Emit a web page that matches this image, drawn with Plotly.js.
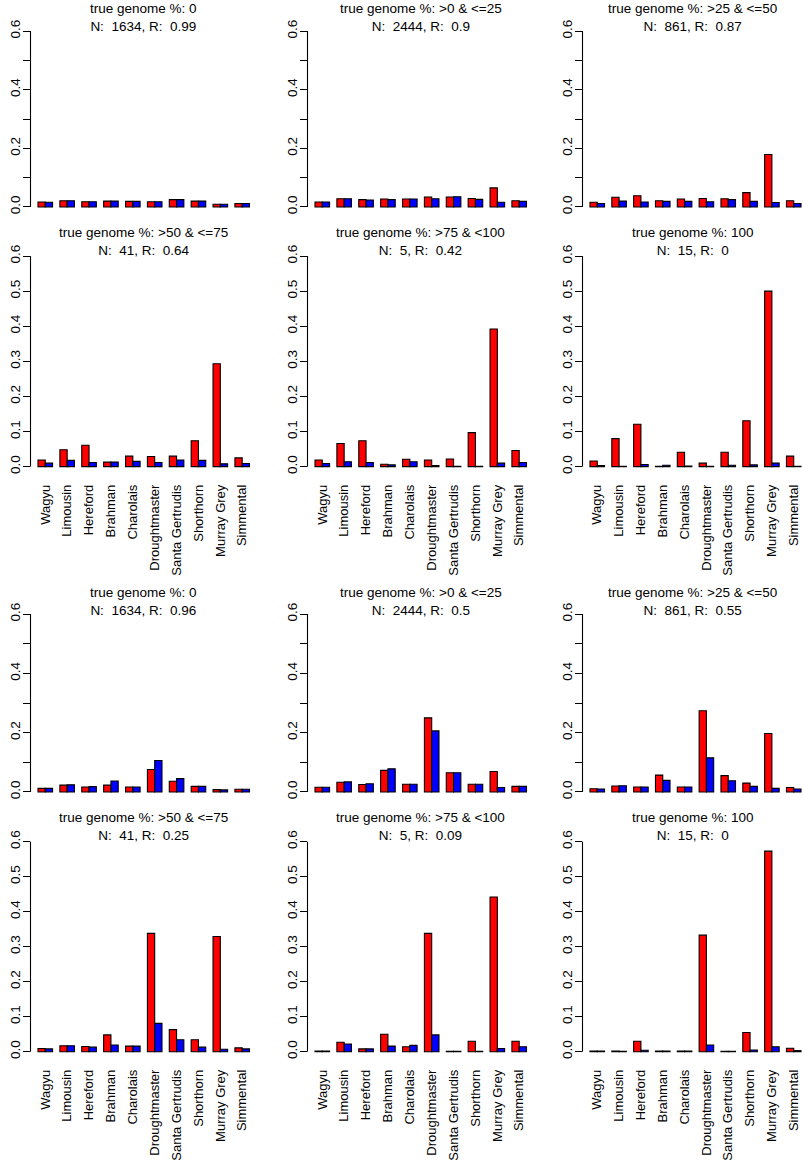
<!DOCTYPE html>
<html>
<head>
<meta charset="utf-8">
<script src="https://cdn.plot.ly/plotly-3.0.1.min.js"></script>
<style>
  html, body { margin: 0; padding: 0; background: #fff; }
  #gd { width: 803px; height: 1166px; }
</style>
</head>
<body>
<div id="gd"></div>
<script>
// breeds on the x axis of every panel
const breeds = ['Wagyu', 'Limousin', 'Hereford', 'Brahman', 'Charolais',
                'Droughtmaster', 'Santa Gertrudis', 'Shorthorn', 'Murray Grey', 'Simmental'];

// panel headings (same classes in both blocks)
const genomeClass = ['0', '&gt;0 &amp; &lt;=25', '&gt;25 &amp; &lt;=50',
                     '&gt;50 &amp; &lt;=75', '&gt;75 &amp; &lt;100', '100'];
const nCount = [1634, 2444, 861, 41, 5, 15];
const rTop = ['0.99', '0.9', '0.87', '0.64', '0.42', '0'];
const rBottom = ['0.96', '0.5', '0.55', '0.25', '0.09', '0'];

// top block: red / blue bars, one row per panel
const topRed = [
  [0.017, 0.021, 0.018, 0.020, 0.019, 0.018, 0.025, 0.020, 0.009, 0.012],
  [0.017, 0.028, 0.025, 0.027, 0.027, 0.034, 0.034, 0.029, 0.065, 0.021],
  [0.016, 0.033, 0.038, 0.021, 0.027, 0.029, 0.028, 0.049, 0.179, 0.021],
  [0.019, 0.048, 0.061, 0.013, 0.030, 0.029, 0.030, 0.074, 0.293, 0.025],
  [0.019, 0.066, 0.074, 0.007, 0.021, 0.019, 0.022, 0.097, 0.392, 0.046],
  [0.016, 0.080, 0.121, 0.001, 0.041, 0.010, 0.041, 0.131, 0.500, 0.030]
];
const topBlue = [
  [0.016, 0.021, 0.018, 0.020, 0.019, 0.018, 0.025, 0.020, 0.009, 0.012],
  [0.017, 0.028, 0.024, 0.025, 0.027, 0.028, 0.035, 0.026, 0.016, 0.019],
  [0.012, 0.020, 0.017, 0.019, 0.019, 0.018, 0.025, 0.019, 0.015, 0.012],
  [0.010, 0.018, 0.012, 0.013, 0.015, 0.012, 0.019, 0.018, 0.008, 0.009],
  [0.009, 0.014, 0.012, 0.005, 0.014, 0.003, 0.001, 0.001, 0.010, 0.012],
  [0.003, 0.001, 0.006, 0.004, 0.002, 0.001, 0.004, 0.005, 0.010, 0.001]
];

// bottom block
const bottomRed = [
  [0.012, 0.023, 0.017, 0.023, 0.017, 0.076, 0.036, 0.019, 0.008, 0.009],
  [0.016, 0.033, 0.025, 0.073, 0.026, 0.250, 0.065, 0.026, 0.069, 0.019],
  [0.011, 0.020, 0.017, 0.057, 0.017, 0.274, 0.055, 0.030, 0.197, 0.015],
  [0.009, 0.017, 0.015, 0.048, 0.016, 0.338, 0.063, 0.034, 0.329, 0.011],
  [0.002, 0.027, 0.008, 0.050, 0.014, 0.338, 0.001, 0.030, 0.442, 0.030],
  [0.002, 0.002, 0.030, 0.002, 0.002, 0.333, 0.001, 0.055, 0.573, 0.010]
];
const bottomBlue = [
  [0.012, 0.024, 0.018, 0.037, 0.017, 0.106, 0.045, 0.019, 0.007, 0.009],
  [0.016, 0.034, 0.028, 0.078, 0.026, 0.206, 0.065, 0.026, 0.015, 0.019],
  [0.010, 0.021, 0.017, 0.039, 0.017, 0.115, 0.038, 0.019, 0.012, 0.010],
  [0.008, 0.017, 0.013, 0.019, 0.016, 0.081, 0.034, 0.013, 0.007, 0.008],
  [0.002, 0.022, 0.008, 0.016, 0.018, 0.048, 0.001, 0.001, 0.009, 0.014],
  [0.002, 0.001, 0.004, 0.002, 0.002, 0.019, 0.001, 0.005, 0.014, 0.003]
];

const yTicks = [0, 0.1, 0.2, 0.3, 0.4, 0.5, 0.6];

// ---- geometry (pixels of the 803x1166 page) ----
const W = 803, H = 1166;
const colPx = [[30.5, 257], [307.5, 534], [582.5, 803]];
const colRange = [[-0.676, 9.676], [-0.676, 9.676], [-0.676, 9.425]];
const rowPx = [[24, 214], [247.6, 475.1], [606.9, 799.1], [833.3, 1060.1]];
const titleY = [17.5, 242, 601, 826.5];

const FONT = 'Liberation Sans, Arial, Helvetica, sans-serif';

let data = [];
let layout = {
  width: W,
  height: H,
  margin: {l: 0, r: 0, t: 0, b: 0},
  paper_bgcolor: '#fff',
  plot_bgcolor: '#fff',
  barmode: 'group',
  bargap: 1 / 3,
  bargroupgap: 0,
  showlegend: false,
  font: {family: FONT, size: 13.5, color: '#000'},
  shapes: [],
  annotations: []
};

for (let p = 0; p < 12; p++) {
  const block = Math.floor(p / 6);
  const i = p % 6;
  const row = block * 2 + Math.floor(i / 3);
  const col = i % 3;
  const suffix = p === 0 ? '' : String(p + 1);
  const xa = 'x' + suffix, ya = 'y' + suffix;

  const red = block === 0 ? topRed[i] : bottomRed[i];
  const blue = block === 0 ? topBlue[i] : bottomBlue[i];
  const r = block === 0 ? rTop[i] : rBottom[i];

  [[red, '#ff0000'], [blue, '#0000ff']].forEach(function (s) {
    data.push({
      type: 'bar',
      x: breeds,
      y: s[0],
      xaxis: xa,
      yaxis: ya,
      marker: {color: s[1], line: {color: '#000', width: 1.1}},
      hoverinfo: 'x+y'
    });
  });

  const xd = [colPx[col][0] / W, colPx[col][1] / W];
  const yd = [1 - rowPx[row][1] / H, 1 - rowPx[row][0] / H];
  const lowerRow = row % 2 === 1;

  layout['xaxis' + suffix] = {
    domain: xd,
    anchor: ya,
    type: 'category',
    range: colRange[col],
    showline: false,
    showgrid: false,
    zeroline: false,
    ticks: '',
    showticklabels: lowerRow,
    tickangle: -90,
    ticklabelstandoff: 6,
    tickfont: {family: FONT, size: 13, color: '#000'},
    fixedrange: true
  };
  layout['yaxis' + suffix] = {
    domain: yd,
    anchor: xa,
    range: [-0.024, 0.624],
    tickmode: 'array',
    tickvals: yTicks,
    ticktext: yTicks.map(function (v, k) {
      return (lowerRow || k % 2 === 0) ? v.toFixed(1) : '';
    }),
    ticks: 'outside',
    ticklen: 7,
    tickwidth: 1,
    tickcolor: '#000',
    tickangle: -90,
    ticklabelstandoff: -3,
    tickfont: {family: FONT, size: 13.5, color: '#000'},
    showline: false,
    showgrid: false,
    zeroline: false,
    fixedrange: true
  };

  // R style axis line, only from the first to the last tick
  layout.shapes.push({
    type: 'line',
    xref: xa + ' domain', x0: 0, x1: 0,
    yref: ya, y0: yTicks[0], y1: yTicks[yTicks.length - 1],
    line: {color: '#000', width: 1.1}
  });

  layout.annotations.push({
    xref: 'paper', yref: 'paper',
    x: (xd[0] + xd[1]) / 2,
    y: 1 - titleY[row] / H,
    xanchor: 'center', yanchor: 'middle',
    showarrow: false,
    text: 'true genome %: ' + genomeClass[i] +
          '<br>N: \u00a0' + nCount[i] + ', R: \u00a0' + r,
    font: {family: FONT, size: 13.5, color: '#000'}
  });
}

Plotly.newPlot('gd', data, layout, {displayModeBar: false, staticPlot: true});
</script>
</body>
</html>
